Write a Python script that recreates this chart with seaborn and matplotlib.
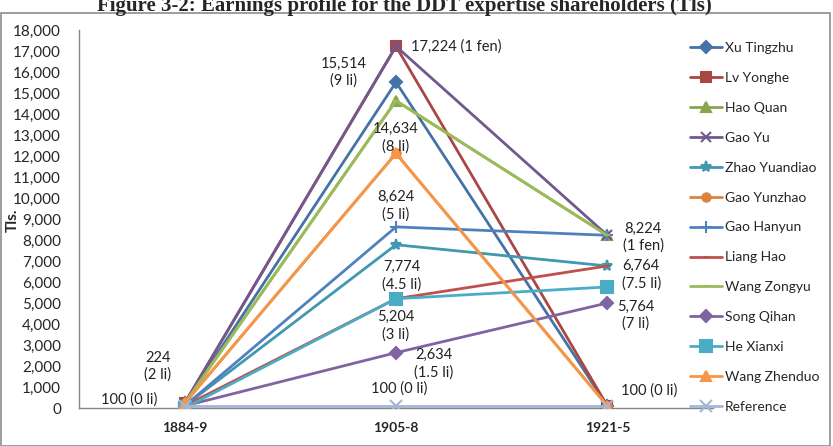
import matplotlib
matplotlib.use("Agg")
import pandas as pd
import matplotlib.pyplot as plt
import seaborn as sns
from matplotlib.patches import Rectangle

# data
periods = ["1884-9", "1905-8", "1921-5"]
names = ["Xu Tingzhu", "Lv Yonghe", "Hao Quan", "Gao Yu", "Zhao Yuandiao",
         "Gao Yunzhao", "Gao Hanyun", "Liang Hao", "Wang Zongyu",
         "Song Qihan", "He Xianxi", "Wang Zhenduo", "Reference"]
xu_tingzhu = [224, 15514, 100]
lv_yonghe = [224, 17224, 100]
hao_quan = [224, 14634, 8224]
gao_yu = [224, 17224, 8224]
zhao_yuandiao = [100, 7774, 6764]
gao_yunzhao = [224, 12124, 100]
gao_hanyun = [100, 8624, 8224]
liang_hao = [100, 5204, 6764]
wang_zongyu = [224, 14634, 8224]
song_qihan = [100, 2634, 5000]
he_xianxi = [0, 5204, 5764]
wang_zhenduo = [224, 12124, 100]
reference = [100, 100, 100]
series = [xu_tingzhu, lv_yonghe, hao_quan, gao_yu, zhao_yuandiao, gao_yunzhao,
          gao_hanyun, liang_hao, wang_zongyu, song_qihan, he_xianxi,
          wang_zhenduo, reference]

# data labels: text, period index, value it belongs to
label_texts = ["224\n(2 li)", "100 (0 li)",
               "15,514\n(9 li)", "17,224 (1 fen)", "14,634\n(8 li)", "8,624\n(5 li)",
               "7,774\n(4.5 li)", "5,204\n(3 li)", "2,634\n(1.5 li)", "100 (0 li)",
               "8,224\n(1 fen)", "6,764\n(7.5 li)", "5,764\n(7 li)", "100 (0 li)"]
label_period = [0, 0, 1, 1, 1, 1, 1, 1, 1, 1, 2, 2, 2, 2]
label_value = [224, 100, 15514, 17224, 14634, 8624, 7774, 5204, 2634, 100,
               8224, 6764, 5000, 100]
# pixel offsets and alignment (style only)
label_offsets = [(-27, 37, "center"), (-27, 6, "right"),
                 (-52, 10, "center"), (15, 0, "left"), (0, -37, "center"),
                 (0, 21, "center"), (6, -31, "center"), (0, -27, "center"),
                 (38, -11, "center"), (3, 17, "center"),
                 (36, -2, "center"), (34, -9, "center"), (28, -12, "center"),
                 (42, 15, "center")]

colors = ["#4572A7", "#AA4643", "#89A54E", "#71588F", "#4198AF", "#DB843D",
          "#4F81BD", "#C0504D", "#9BBB59", "#8064A2", "#4BACC6", "#F79646",
          "#A5B5D8"]
markers = ["D", "s", "^", "x", "*", "o", "+", "_", "_", "D", "s", "^", "x"]
msizes = [6, 7, 7, 7, 8, 6, 8, 5, 5, 6, 8, 7, 8]

rows = []
for name, vals in zip(names, series):
    for i, v in enumerate(vals):
        rows.append({"name": name, "pos": i, "value": v})
df = pd.DataFrame(rows)

sns.set_style("white")
plt.rcParams["font.family"] = ["Lato", "DejaVu Sans"]

fig = plt.figure(figsize=(8.33, 4.46), dpi=100)
W, H = 833, 446
ax = fig.add_axes([79 / W, 1 - 408 / H, (713 - 79) / W, (408 - 30) / H])

for name, col, mk, ms in zip(names, colors, markers, msizes):
    sub = df[df["name"] == name]
    sns.lineplot(data=sub, x="pos", y="value", ax=ax, color=col, marker=mk,
                 markersize=ms, markeredgecolor=col, markeredgewidth=1.5,
                 linewidth=2, label=name, sort=False, zorder=3)

for txt, p, v, (dx, dy, ha) in zip(label_texts, label_period, label_value, label_offsets):
    ax.annotate(txt, xy=(p, v), xytext=(dx, dy), textcoords="offset pixels",
                ha=ha, va="center", fontsize=10.5, color="#222222",
                linespacing=1.25, zorder=5)

ax.set_xlim(-0.5, 2.5)
ax.set_ylim(0, 18000)
ax.set_yticks(range(0, 18001, 1000))
ax.set_yticklabels([f"{t:,}" for t in range(0, 18001, 1000)], fontsize=11)
ax.set_xticks([-0.5, 0.5, 1.5, 2.5])
ax.set_xticklabels([])
ax.set_xticks([0, 1, 2], minor=True)
ax.set_xticklabels(periods, minor=True, fontsize=10, fontweight="bold")
ax.tick_params(axis="x", which="minor", length=0, pad=10)
ax.tick_params(axis="x", which="major", length=4, direction="out", color="#868686")
ax.tick_params(axis="y", length=4, direction="out", color="#868686", pad=9)
ax.set_xlabel("")
ax.set_ylabel("")
for s in ["top", "right"]:
    ax.spines[s].set_visible(False)
for s in ["left", "bottom"]:
    ax.spines[s].set_color("#868686")
    ax.spines[s].set_linewidth(1)
ax.patch.set_alpha(0)

fig.text(13 / W, 1 - 220 / H, "Tls.", rotation=90, ha="center", va="center",
         fontsize=11, fontweight="bold")

leg = ax.legend(loc="upper left", bbox_to_anchor=(683 / W, 1 - 35 / H),
                bbox_transform=fig.transFigure, frameon=False, fontsize=10,
                handlelength=2.3, handletextpad=0.2, labelspacing=1.29,
                borderpad=0)

# chart border like the spreadsheet frame
fig.patches.append(Rectangle((1 / W, 0), 829 / W, 1 - 13 / H, transform=fig.transFigure,
                             fill=False, edgecolor="#8c8c8c", linewidth=1.2))

fig.text(0.485, 1 - 11 / H, "Figure 3-2: Earnings profile for the DDT expertise shareholders (Tls)",
         ha="center", va="baseline", fontsize=15, fontweight="bold",
         family=["Liberation Serif", "DejaVu Serif"])

fig.savefig("out.png", dpi=100)
